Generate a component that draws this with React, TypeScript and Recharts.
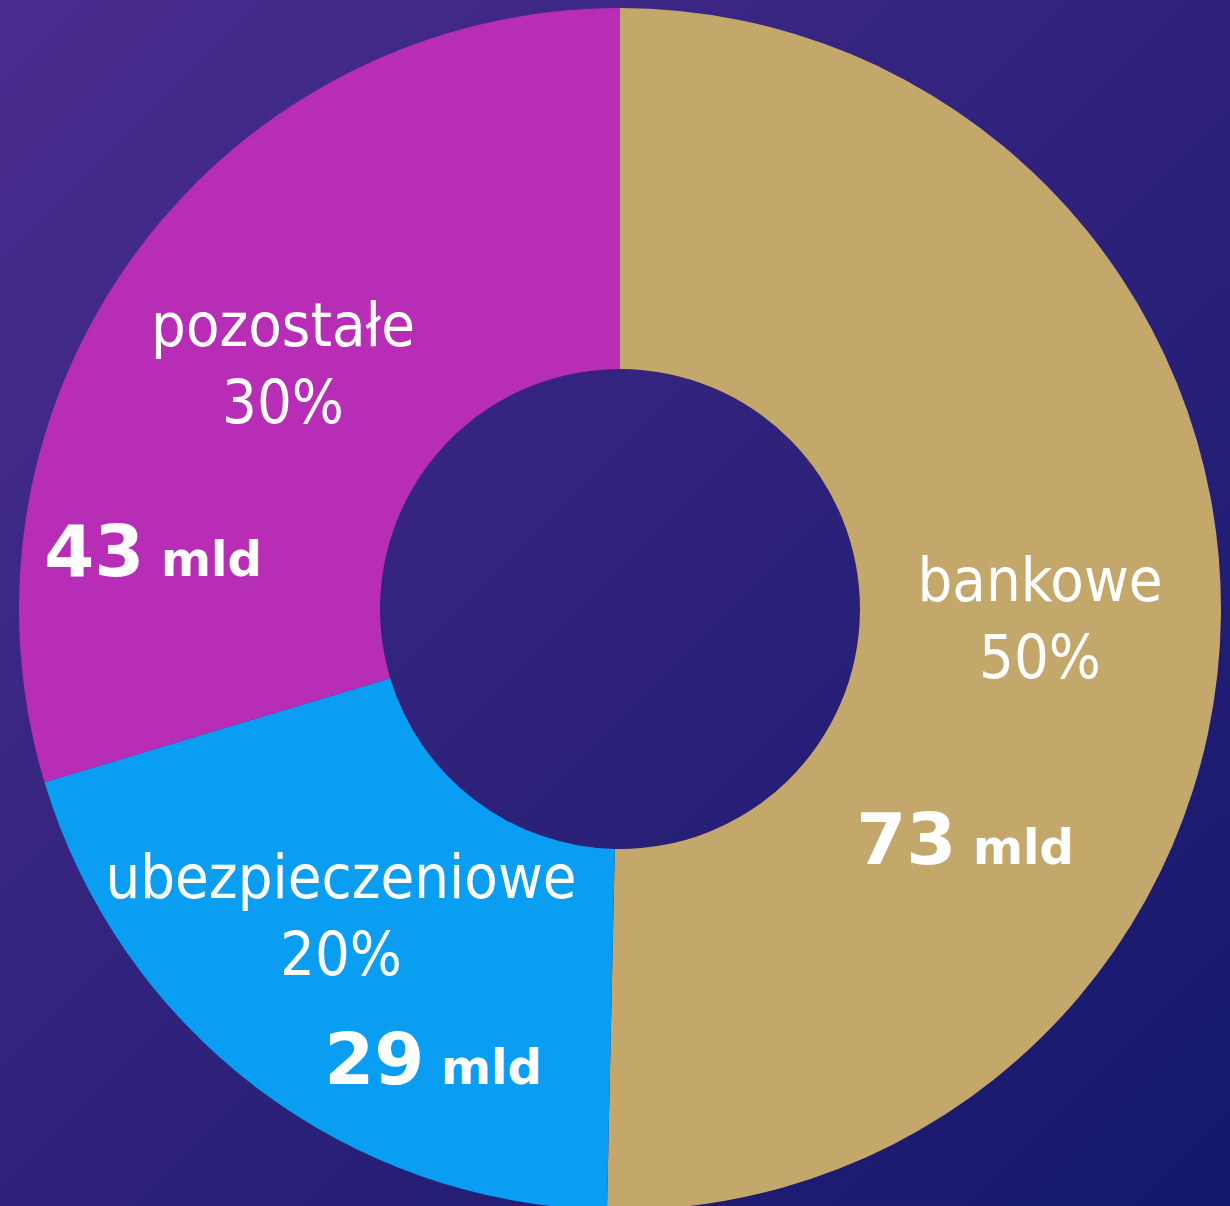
import { PieChart, Pie, Cell } from "recharts";

const categories = ["bankowe", "ubezpieczeniowe", "pozostałe"];
const amounts = [73, 29, 43];
const colors = ["#C4A76A", "#0A9EF2", "#B82DB5"];

// label block placement relative to the pie centre: [name/percent x, name y, amount x, amount y]
const labelLayout = [
  [420, -8, 345, 255],
  [-279, 289, -187, 475],
  [-337, -263, -467, -33],
];

const data = categories.map((name, i) => ({ name, value: amounts[i] }));

const FONT = "'DejaVu Sans Condensed', 'DejaVu Sans', sans-serif";
const BOLD_FONT = "'DejaVu Sans', sans-serif";

function renderLabel(props: any) {
  const { cx, cy, index, percent, name, value } = props;
  const [nx, ny, ax, ay] = labelLayout[index];
  return (
    <g key={"lbl-" + index} fill="#ffffff">
      <text x={cx + nx} y={cy + ny} textAnchor="middle" fontFamily={FONT} fontSize={61} fill="#ffffff">
        {name}
      </text>
      <text x={cx + nx} y={cy + ny + 77} textAnchor="middle" fontFamily={FONT} fontSize={61} fill="#ffffff">
        {Math.round(percent * 100)}%
      </text>
      <text x={cx + ax} y={cy + ay} textAnchor="middle" fontFamily={BOLD_FONT} fontWeight="bold" fill="#ffffff">
        <tspan fontSize={72}>{value}</tspan>
        <tspan fontSize={48}> mld</tspan>
      </text>
    </g>
  );
}

export default function App() {
  return (
    <div
      style={{
        width: 1230,
        height: 1206,
        background: "linear-gradient(135deg, #4a2d8e 0%, #2f227b 50%, #13186c 100%)",
      }}
    >
      <style>{`body{margin:0}`}</style>
      <PieChart width={1230} height={1206} margin={{ top: 0, right: 0, bottom: 0, left: 0 }}>
        <Pie
          data={data}
          dataKey="value"
          nameKey="name"
          cx={620}
          cy={609}
          innerRadius={240}
          outerRadius={601}
          startAngle={90}
          endAngle={-270}
          stroke="none"
          label={renderLabel}
          labelLine={false}
          isAnimationActive={false}
        >
          {data.map((d, i) => (
            <Cell key={d.name} fill={colors[i]} />
          ))}
        </Pie>
      </PieChart>
    </div>
  );
}
